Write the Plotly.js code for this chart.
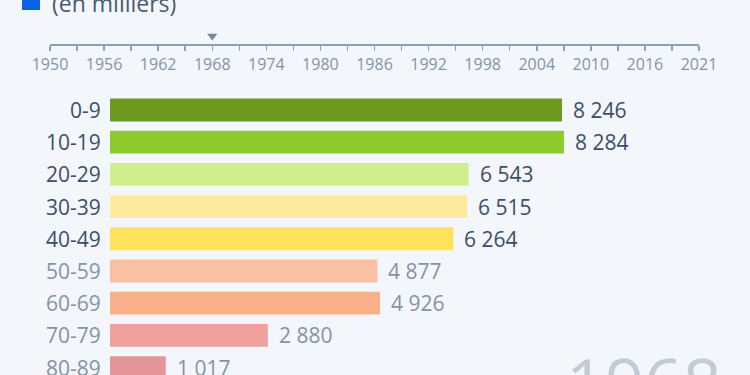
<!DOCTYPE html>
<html>
<head>
<meta charset="utf-8">
<script src="https://cdn.plot.ly/plotly-3.0.1.min.js"></script>
<style>html,body{margin:0;padding:0;background:#f3f6fa;}#chart{width:750px;height:375px;}</style>
</head>
<body>
<div id="chart"></div>
<script>
// ---- data ----
const ageGroups = ['0-9','10-19','20-29','30-39','40-49','50-59','60-69','70-79','80-89'];
const population = [8246, 8284, 6543, 6515, 6264, 4877, 4926, 2880, 1017];
const barColors = ['#6b9a1e','#8ccb2b','#cfee8c','#feec9e','#fce35b','#f8c1a2','#f9af88','#f0a19d','#e59597'];
const labelColors = ['#3d4f68','#3d4f68','#3d4f68','#3d4f68','#3d4f68','#8793a3','#8793a3','#8793a3','#8793a3'];
const timelineYears = [1950,1953,1956,1959,1962,1965,1968,1971,1974,1977,1980,1983,1986,1989,1992,1995,1998,2001,2004,2007,2010,2013,2016,2019,2021];
const labelledYears = [1950,1956,1962,1968,1974,1980,1986,1992,1998,2004,2010,2016,2021];
const selectedYear = 1968;
const unitLabel = '(en milliers)';

const FONT = 'Open Sans, sans-serif';
const selIdx = timelineYears.indexOf(selectedYear);
const tickIdx = timelineYears.map((y,i)=>i);
const tickText = timelineYears.map(y => labelledYears.includes(y) ? String(y) : '');

const bars = {
  type: 'bar', orientation: 'h',
  y: ageGroups, x: population,
  marker: {color: barColors, line: {width: 0}},
  width: 0.71, hoverinfo: 'none', xaxis: 'x', yaxis: 'y'
};
const marker = {
  type: 'scatter', mode: 'markers',
  x: [selIdx], y: [0.28], xaxis: 'x2', yaxis: 'y2',
  marker: {symbol: 'triangle-down', size: 9, color: '#7a8a9b'},
  hoverinfo: 'none'
};

const annotations = [];
ageGroups.forEach((g,i)=>{
  annotations.push({xref:'x', yref:'y', x:0, y:g, text:g, showarrow:false,
    xanchor:'right', xshift:-7, font:{family:FONT, size:21, color:labelColors[i]}});
  annotations.push({xref:'x', yref:'y', x:population[i], y:g,
    text: population[i].toLocaleString('fr-FR').replace(/\s/g,' '), showarrow:false,
    xanchor:'left', xshift:9, font:{family:FONT, size:21, color:labelColors[i]}});
});
annotations.push({xref:'paper', yref:'paper', x:50/750, y:1-3/375, xanchor:'left', yanchor:'middle',
  text: unitLabel, showarrow:false, font:{family:FONT, size:23, color:'#4a5b70'}});
annotations.push({xref:'paper', yref:'paper', x:1-26/750, y:1-333/375, xanchor:'right', yanchor:'top',
  text: String(selectedYear), showarrow:false, font:{family:FONT, size:68, color:'#c3ccd6'}});

const layout = {
  width: 750, height: 375,
  margin: {l:0, r:0, t:0, b:0},
  paper_bgcolor: '#f3f6fa', plot_bgcolor: '#f3f6fa',
  showlegend: false,
  separators: ', ',
  font: {family: FONT},
  xaxis: {domain:[110/750, 1], range:[0, 11677], visible:false, fixedrange:true},
  yaxis: {domain:[0, 290/375], type:'category', range:[8.23, -0.776], visible:false, fixedrange:true},
  xaxis2: {domain:[50/750, 699/750], range:[0, timelineYears.length-1], anchor:'y2',
    tickmode:'array', tickvals: tickIdx, ticktext: tickText,
    ticks:'outside', ticklen:5, tickwidth:1.5, tickcolor:'#8fa0b1',
    showline:true, linecolor:'#8fa0b1', linewidth:1.5,
    showgrid:false, zeroline:false, fixedrange:true,
    tickfont:{family:FONT, size:16, color:'#8494a6'}},
  yaxis2: {domain:[1-44/375, 0.96], range:[0,1], visible:false, fixedrange:true},
  shapes: [{type:'rect', xref:'paper', yref:'paper', x0:22/750, x1:40/750, y0:1-10/375, y1:1+8/375,
    fillcolor:'#0b62e6', line:{width:0}}],
  annotations: annotations
};
Plotly.newPlot('chart', [bars, marker], layout, {displayModeBar:false, staticPlot:true});
</script>
</body>
</html>
